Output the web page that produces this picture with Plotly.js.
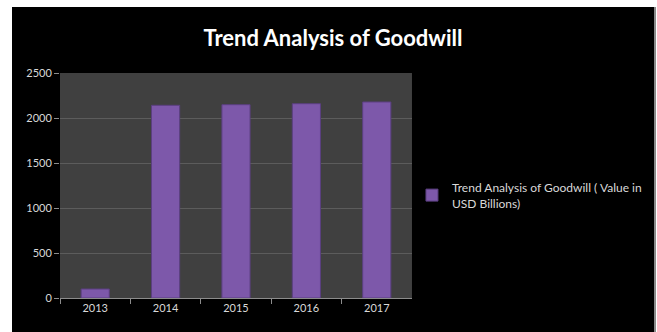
<!DOCTYPE html>
<html>
<head>
<meta charset="utf-8">
<script src="https://cdn.plot.ly/plotly-3.0.1.min.js"></script>
<style>
html,body{margin:0;padding:0;background:#ffffff;width:657px;height:332px;overflow:hidden;}
#frame{position:absolute;left:12px;top:7px;width:642px;height:325px;background:#000;border-right:2px solid #8a8a8a;}
#chart{position:absolute;left:0;top:0;width:642px;height:325px;}
</style>
</head>
<body>
<div id="frame"><div id="chart"></div></div>
<script>
const years = ['2013', '2014', '2015', '2016', '2017'];
const goodwill = [100, 2141, 2148, 2159, 2178];
const seriesName = 'Trend Analysis of Goodwill ( Value in<br>USD Billions)';
const chartTitle = 'Trend Analysis of Goodwill';
const yTicks = [0, 500, 1000, 1500, 2000, 2500];

const trace = {
  type: 'bar',
  x: years,
  y: goodwill,
  name: seriesName,
  marker: {color: '#7d58aa', line: {color: '#5b3f80', width: 1}},
  hoverinfo: 'x+y'
};

const layout = {
  width: 642, height: 325,
  paper_bgcolor: '#000000',
  plot_bgcolor: '#404040',
  margin: {l: 48, r: 239, t: 66, b: 34},
  bargap: 0.6,
  showlegend: true,
  title: {text: chartTitle, x: 0.5, xanchor: 'center', y: 0.905, yanchor: 'middle', yref: 'container',
          font: {family: 'Lato, "Open Sans", sans-serif', size: 22, color: '#ffffff', weight: 'bold'}},
  font: {family: 'Lato, "Open Sans", sans-serif', size: 11, color: '#d9d9d9'},
  xaxis: {
    type: 'category', showgrid: false, ticks: 'outside', tickson: 'boundaries', ticklen: 5,
    tickcolor: '#8c8c8c', showline: true, linecolor: '#8c8c8c', linewidth: 1,
    tickfont: {size: 11, color: '#d9d9d9'}
  },
  yaxis: {
    range: [0, 2500], tickvals: yTicks, ticks: 'outside', ticklen: 5, tickcolor: '#8c8c8c',
    showline: false, gridcolor: '#5c5c5c', gridwidth: 1, zeroline: false,
    tickfont: {size: 11, color: '#d9d9d9'}
  },
  legend: {
    xref: 'container', yref: 'container',
    x: 0.623, y: 0.42, xanchor: 'left', yanchor: 'middle',
    bgcolor: 'rgba(0,0,0,0)', font: {size: 12, color: '#d9d9d9'},
    itemwidth: 30
  }
};

Plotly.newPlot('chart', [trace], layout, {displayModeBar: false, staticPlot: true});
</script>
</body>
</html>
